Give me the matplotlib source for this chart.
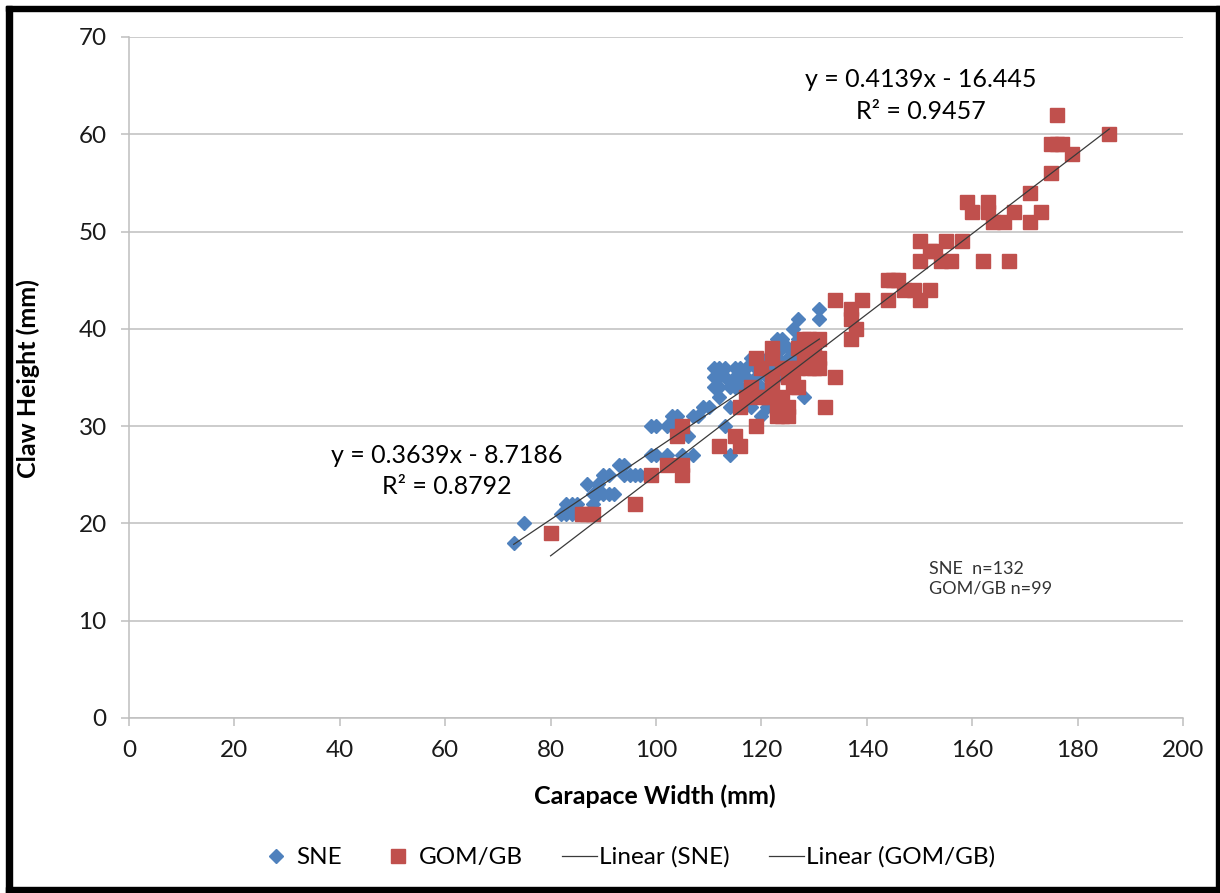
import matplotlib
matplotlib.use("Agg")
import matplotlib.pyplot as plt
from matplotlib.patches import Rectangle
from matplotlib.lines import Line2D
import numpy as np

# SNE samples: carapace width (mm), claw height (mm)
sne_cw = [73, 75, 82, 83, 83, 84, 84, 85, 86, 87, 88, 88, 89, 89, 90, 90, 91, 91, 92, 93,
          94, 94, 95, 96, 97, 99, 99, 100, 100, 102, 102, 103, 104, 104, 105, 106, 107, 107,
          108, 109, 110, 111, 111, 111, 112, 112, 112, 112, 113, 113, 113, 114, 114, 114,
          115, 115, 115, 116, 116, 116, 117, 117, 117, 118, 118, 118, 119, 119, 119, 120,
          120, 120, 120, 121, 121, 121, 122, 122, 122, 123, 123, 123, 124, 124, 124, 125,
          125, 125, 126, 126, 126, 127, 127, 127, 128, 128, 128, 129, 130, 131, 131]
sne_ch = [18, 20, 21, 21, 22, 21, 22, 22, 21, 24, 23, 22, 24, 23, 25, 23, 25, 23, 23, 26,
          25, 26, 25, 25, 25, 30, 27, 27, 30, 30, 27, 31, 31, 30, 27, 29, 31, 27,
          31, 32, 32, 36, 35, 34, 36, 35, 33, 34, 36, 35, 30, 27, 34, 32,
          34, 35, 36, 36, 35, 34, 36, 35, 34, 37, 33, 32, 34, 36, 35, 31,
          33, 36, 34, 32, 35, 37, 36, 33, 38, 39, 35, 37, 39, 38, 36, 38,
          37, 35, 40, 37, 36, 41, 39, 38, 33, 36, 38, 37, 38, 42, 41]

# GOM/GB samples
gom_cw = [80, 86, 87, 88, 96, 99, 102, 104, 105, 105, 105, 112, 115, 116, 116, 117, 118,
          119, 119, 120, 120, 121, 122, 122, 122, 122, 123, 123, 124, 124, 124, 125, 125,
          125, 126, 126, 126, 127, 127, 127, 128, 128, 128, 129, 129, 129, 130, 130, 130,
          131, 131, 131, 132, 134, 134, 137, 137, 137, 138, 139, 144, 144, 145, 146, 147,
          149, 150, 150, 150, 152, 152, 153, 154, 155, 156, 158, 159, 160, 162, 163, 163,
          164, 166, 167, 168, 171, 171, 173, 175, 175, 176, 176, 177, 179, 186]
gom_ch = [19, 21, 21, 21, 22, 25, 26, 29, 30, 25, 26, 28, 29, 28, 32, 33, 34,
          30, 37, 36, 33, 33, 38, 37, 35, 34, 32, 31, 33, 31, 36, 32, 35,
          31, 34, 36, 35, 34, 38, 36, 39, 37, 38, 39, 37, 36, 37, 38, 36,
          39, 36, 37, 32, 35, 43, 42, 41, 39, 40, 43, 45, 43, 45, 45, 44,
          44, 43, 47, 49, 48, 44, 48, 47, 49, 47, 49, 53, 52, 47, 53, 52,
          51, 51, 47, 52, 54, 51, 52, 56, 59, 59, 62, 59, 58, 60]

# trend line coefficients as printed on the chart
sne_fit = (0.3639, -8.7186)
gom_fit = (0.4139, -16.445)

plt.rcParams['font.family'] = ['Lato', 'DejaVu Sans']

fig = plt.figure(figsize=(12.2, 8.93), dpi=100)
ax = fig.add_axes([0.1057, 0.196, 0.864, 0.7626])

blue = '#4F81BD'
red = '#C0504D'
grid = '#bfbfbf'
trend = '#3a3a3a'

ax.plot(sne_cw, sne_ch, linestyle='none', marker='D', markersize=6.8,
        color=blue, zorder=3)
ax.plot(gom_cw, gom_ch, linestyle='none', marker='s', markersize=9.8,
        color=red, zorder=3)

xs = np.array([min(sne_cw), max(sne_cw)])
ax.plot(xs, sne_fit[0] * xs + sne_fit[1], color=trend, lw=0.9, zorder=4)
xg = np.array([min(gom_cw), max(gom_cw)])
ax.plot(xg, gom_fit[0] * xg + gom_fit[1], color=trend, lw=0.9, zorder=4)

ax.set_xlim(0, 200)
ax.set_ylim(0, 70)
ax.set_xticks(np.arange(0, 201, 20))
ax.set_yticks(np.arange(0, 71, 10))
ax.yaxis.grid(True, color=grid, lw=1.1)
ax.set_axisbelow(True)
for s in ['top', 'right']:
    ax.spines[s].set_visible(False)
for s in ['left', 'bottom']:
    ax.spines[s].set_color(grid)
    ax.spines[s].set_linewidth(1.1)
ax.tick_params(axis='both', direction='out', length=6, width=1.1, color=grid,
               labelsize=17.5, labelcolor='#1a1a1a', pad=10)

ax.set_xlabel('Carapace Width (mm)', fontsize=18, fontweight='bold')
ax.set_ylabel('Claw Height (mm)', fontsize=18, fontweight='bold')
ax.xaxis.set_label_coords(0.499, -0.098)
ax.yaxis.set_label_coords(-0.084, 0.499)

ax.text(150.3, 64.0, 'y = 0.4139x - 16.445\nR² = 0.9457', fontsize=18,
        ha='center', va='center', multialignment='center', linespacing=1.45)
ax.text(60.3, 25.4, 'y = 0.3639x - 8.7186\nR² = 0.8792', fontsize=18,
        ha='center', va='center', multialignment='center', linespacing=1.45)
ax.text(151.8, 14.3, 'SNE  n=132\nGOM/GB n=99', fontsize=13, color='#333333',
        ha='left', va='center', linespacing=1.25)

handles = [
    Line2D([], [], linestyle='none', marker='D', markersize=6.8, color=blue),
    Line2D([], [], linestyle='none', marker='s', markersize=9.8, color=red),
    Line2D([], [], color=trend, lw=0.9),
    Line2D([], [], color=trend, lw=0.9),
]
labels = ['SNE', 'GOM/GB', 'Linear (SNE)', 'Linear (GOM/GB)']
fig.legend(handles, labels, loc='center', bbox_to_anchor=(0.514, 0.04),
           ncol=4, frameon=False, fontsize=17.5, handlelength=1.45,
           handletextpad=0.1, columnspacing=1.6)

# black frame around the picture
W, H = 1220, 893
for (x0, y0, w, h) in [(6, 6, 6, 887), (6, 6, 1214, 5), (1216, 6, 4, 887), (6, 887, 1214, 6)]:
    fig.patches.append(Rectangle((x0 / W, 1 - (y0 + h) / H), w / W, h / H,
                                 transform=fig.transFigure, color='black', zorder=10))

fig.savefig('out.png', dpi=100)
